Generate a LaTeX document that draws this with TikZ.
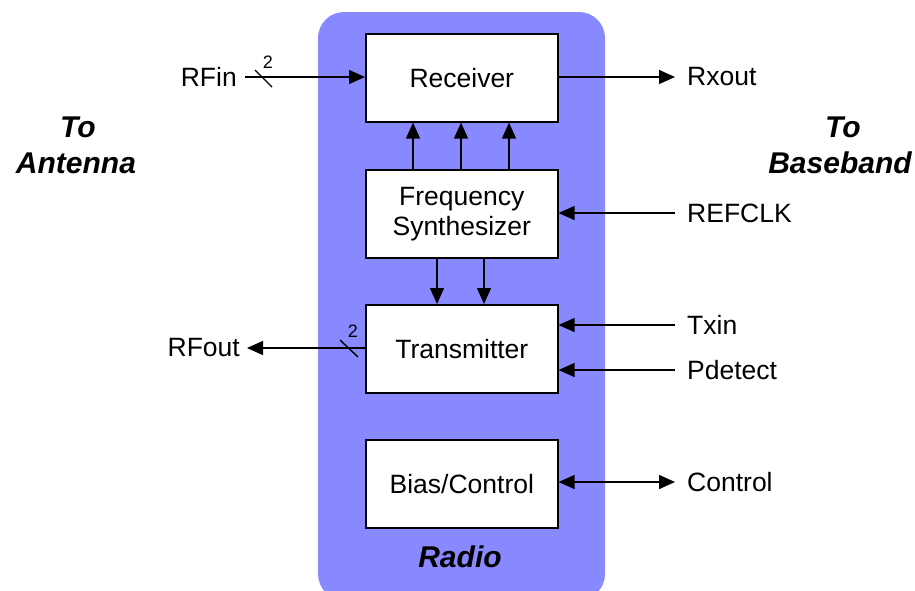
\documentclass[tikz,border=0pt]{standalone}
\usepackage{fontspec}
\setmainfont{Liberation Sans}
\usetikzlibrary{arrows.meta}
\definecolor{radioblue}{HTML}{8888FF}
\begin{document}
\begin{tikzpicture}[x=1pt,y=-1pt,
  blk/.style={draw=black,line width=1.6pt,fill=white,minimum width=192pt,minimum height=88pt,anchor=north west,inner sep=0pt,align=center,font=\fontsize{26.5}{30}\selectfont},
  lbl/.style={font=\fontsize{26.5}{30}\selectfont,inner sep=0pt},
  side/.style={font=\fontsize{30}{36}\selectfont\bfseries\itshape,inner sep=0pt,anchor=base},
  conn/.style={line width=1.4pt,-{Triangle[length=16pt,width=14pt]}},
  dconn/.style={line width=1.4pt,{Triangle[length=16pt,width=14pt]}-{Triangle[length=16pt,width=14pt]}},
  small/.style={font=\fontsize{18}{20}\selectfont,inner sep=0pt}]
\useasboundingbox (0,0) rectangle (915,590);
\fill[radioblue,rounded corners=26pt] (318,12) rectangle (605,600);
\node[blk] (rx) at (365,33) {Receiver};
\node[blk] (fs) at (365,169) {Frequency\\Synthesizer};
\node[blk] (tx) at (365,304) {Transmitter};
\node[blk] (bc) at (365,439) {Bias/Control};
% external signal labels
\node[lbl,anchor=east] (rfin) at (237,77) {RFin};
\node[lbl,anchor=west] (rxout) at (687,77) {Rxout};
\node[lbl,anchor=west] (refclk) at (687,213) {REFCLK};
\node[lbl,anchor=west] (txin) at (687,325) {Txin};
\node[lbl,anchor=west] (pdet) at (687,370) {Pdetect};
\node[lbl,anchor=east] (rfout) at (240,348) {RFout};
\node[lbl,anchor=west] (ctrl) at (687,482) {Control};
\coordinate (rfinS) at (245,77);
\coordinate (rxoutE) at (675,77);
\coordinate (refS) at (675,213);
\coordinate (txinS) at (675,325);
\coordinate (pdetS) at (675,370);
\coordinate (rfoutE) at (247,348);
\coordinate (ctrlE) at (675,482);
\draw[conn] (rfinS) -- (rfinS -| rx.west);
\draw[conn] (rxoutE -| rx.east) -- (rxoutE);
\draw[conn] (refS) -- (refS -| fs.east);
\draw[conn] (txinS) -- (txinS -| tx.east);
\draw[conn] (pdetS) -- (pdetS -| tx.east);
\draw[conn] (rfoutE -| tx.west) -- (rfoutE);
\draw[dconn] (ctrlE -| bc.east) -- (ctrlE);
% bus markers
\draw[line width=1.4pt] (255,70) -- (272,87);
\node[small] (n1) at (268,62) {2};
\draw[line width=1.4pt] (340,340) -- (358,357);
\node[small] (n2) at (353,331) {2};
% synth to receiver / transmitter
\foreach \x in {413,461,509}{
  \draw[conn] (fs.north -| \x,0) -- (rx.south -| \x,0);
}
\foreach \x in {437,484}{
  \draw[conn] (fs.south -| \x,0) -- (tx.north -| \x,0);
}
\node[side] (ant1) at (78,137) {To};
\node[side] (ant2) at (76,173) {Antenna};
\node[side] (bb1) at (843,137) {To};
\node[side] (bb2) at (840,173) {Baseband};
\node[side] (radio) at (460,567) {Radio};
\end{tikzpicture}
\end{document}
